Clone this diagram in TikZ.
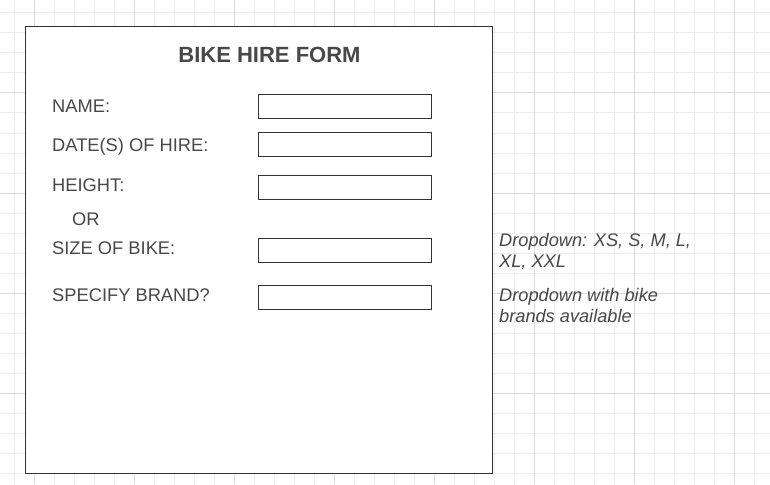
\documentclass[tikz,border=0pt]{standalone}
\usepackage{fontspec}
\setmainfont{Liberation Sans}
\usetikzlibrary{positioning}

\definecolor{gridminor}{HTML}{EDEDED}
\definecolor{gridmajor}{HTML}{DCDCDC}
\definecolor{inkgrey}{HTML}{484848}
\definecolor{edgegrey}{HTML}{333333}

\tikzset{
	formlabel/.style={anchor=base west, inner sep=0pt, text=inkgrey, font=\fontsize{18.3}{21}\selectfont},
	formfield/.style={draw=edgegrey, line width=1pt, fill=white, anchor=north west, inner sep=0pt, minimum width=173pt, minimum height=24pt},
	formnote/.style={anchor=north west, inner sep=0pt, align=left, text=inkgrey, font=\fontsize{18.2}{21}\selectfont\itshape}
}

\begin{document}
\begin{tikzpicture}[x=1pt, y=-1pt]
	\useasboundingbox (0,0) rectangle (770,484);
	\fill[white] (0,0) rectangle (770,484);

	% grid
	\foreach \x in {14,34,...,770} \draw[gridminor, line width=1pt] (\x,0) -- (\x,484);
	\foreach \y in {13,33,...,484} \draw[gridminor, line width=1pt] (0,\y) -- (770,\y);
	\foreach \x in {34,134,...,770} \draw[gridmajor, line width=1pt] (\x,0) -- (\x,484);
	\foreach \y in {93,193,...,484} \draw[gridmajor, line width=1pt] (0,\y) -- (770,\y);

	\node[draw=edgegrey, line width=1pt, fill=white, anchor=north west, inner sep=0pt, minimum width=467pt, minimum height=447pt] (form) at (25,26) {};
	\node[text=inkgrey, font=\fontsize{22}{26}\selectfont\bfseries] (title) at (269.5,55) {BIKE HIRE FORM};

	\node[formlabel] (name) at (52,112.5) {NAME:};
	\node[formlabel] (dates) at (52,151.5) {DATE(S) OF HIRE:};
	\node[formlabel] (height) at (52,191) {HEIGHT:};
	\node[formlabel] (or) at (72,225.5) {OR};
	\node[formlabel] (size) at (52,254.5) {SIZE OF BIKE:};
	\node[formlabel] (brand) at (52,301.5) {SPECIFY BRAND?};

	\node[formfield] (namefield) at (258,94) {};
	\node[formfield] (datesfield) at (258,132) {};
	\node[formfield] (heightfield) at (258,175) {};
	\node[formfield] (sizefield) at (258,238) {};
	\node[formfield] (brandfield) at (258,285) {};

	\node[formnote] (sizenote) at (499,233.5) {Dropdown: XS, S, M, L,\\XL, XXL};
	\node[formnote] (brandnote) at (499,288.5) {Dropdown with bike\\brands available};

\end{tikzpicture}
\end{document}
